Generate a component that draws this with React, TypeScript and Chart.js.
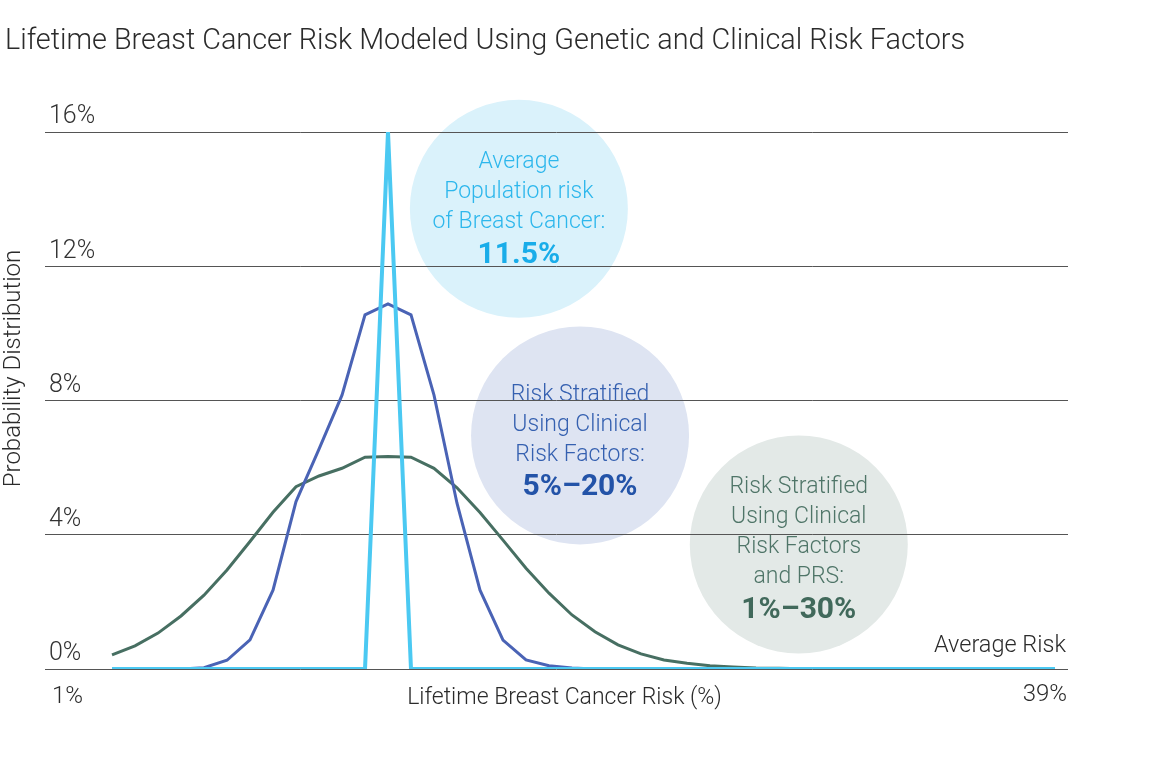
import React, { useEffect, useRef } from "react";
import { Chart, registerables } from "chart.js";

Chart.register(...registerables);

// ---------- data ----------
const binIndex = [
  0, 1, 2, 3, 4, 5, 6, 7, 8, 9, 10, 11, 12, 13, 14, 15, 16, 17, 18, 19, 20,
  21, 22, 23, 24, 25, 26, 27, 28, 29, 30, 31, 32, 33, 34, 35, 36, 37, 38, 39, 40, 41,
];

const clinicalAndPrs = [
  0.42, 0.69, 1.07, 1.58, 2.2, 2.95, 3.8, 4.67, 5.43, 5.75, 5.98, 6.31, 6.33, 6.31,
  5.98, 5.4, 4.66, 3.84, 3.0, 2.26, 1.61, 1.11, 0.72, 0.45, 0.27, 0.17, 0.1, 0.06,
  0.03, 0.02, 0.01, 0, 0, 0, 0, 0, 0, 0, 0, 0, 0, 0,
];

const clinicalOnly = [
  0, 0, 0, 0, 0.04, 0.26, 0.87, 2.35, 4.99, 6.55, 8.16, 10.55, 10.88, 10.55, 8.16,
  4.94, 2.35, 0.86, 0.27, 0.1, 0.03, 0, 0, 0, 0, 0, 0, 0, 0, 0, 0, 0, 0, 0, 0, 0,
  0, 0, 0, 0, 0, 0,
];

const averagePopulation = [
  0, 0, 0, 0, 0, 0, 0, 0, 0, 0, 0, 0, 16, 0, 0, 0, 0, 0, 0, 0, 0, 0, 0, 0, 0, 0,
  0, 0, 0, 0, 0, 0, 0, 0, 0, 0, 0, 0, 0, 0, 0, 0,
];

const yTickValues = [0, 4, 8, 12, 16];
const xStartLabel = "1%";
const xEndLabel = "39%";
const chartTitle = "Lifetime Breast Cancer Risk Modeled Using Genetic and Clinical Risk Factors";
const xTitle = "Lifetime Breast Cancer Risk (%)";
const yTitle = "Probability Distribution";
const baselineLabel = "Average Risk";

const bubbleLines1 = ["Average", "Population risk", "of Breast Cancer:"];
const bubbleValue1 = "11.5%";
const bubbleLines2 = ["Risk Stratified", "Using Clinical", "Risk Factors:"];
const bubbleValue2 = "5%–20%";
const bubbleLines3 = ["Risk Stratified", "Using Clinical", "Risk Factors", "and PRS:"];
const bubbleValue3 = "1%–30%";

// ---------- styles ----------
const FONT = "Roboto, 'Liberation Sans', sans-serif";
const TEXT = "#2b2b2b";

const bubbles = [
  { lines: bubbleLines1, value: bubbleValue1, cx: 17.69, cy: 13.71, r: 109, dy: 0, fill: "#daf2fb", color: "#2db7ec", bold: "#19ade9" },
  { lines: bubbleLines2, value: bubbleValue2, cx: 20.35, cy: 6.96, r: 109, dy: 6, fill: "#dee4f2", color: "#3560b0", bold: "#2353a8" },
  { lines: bubbleLines3, value: bubbleValue3, cx: 29.86, cy: 3.71, r: 109, dy: 4.5, fill: "#e3e9e7", color: "#4f7568", bold: "#41695b" },
];

const bubblePlugin = {
  id: "bubbles",
  beforeDraw(chart: any) {
    const { ctx, scales } = chart;
    const xs = scales.x;
    const ys = scales.y;
    ctx.save();
    bubbles.forEach((b) => {
      const px = xs.getPixelForValue(b.cx);
      const py = ys.getPixelForValue(b.cy);
      ctx.beginPath();
      ctx.arc(px, py, b.r, 0, Math.PI * 2);
      ctx.fillStyle = b.fill;
      ctx.fill();
      const lineH = 30;
      const gapBold = 33;
      const total = lineH * (b.lines.length - 1) + gapBold;
      const y = py - total / 2 + b.dy;
      ctx.textAlign = "center";
      ctx.textBaseline = "middle";
      ctx.fillStyle = b.color;
      ctx.font = `300 23px ${FONT}`;
      b.lines.forEach((l: string, i: number) => {
        ctx.fillText(l, px, y + i * lineH);
      });
      ctx.fillStyle = b.bold;
      ctx.font = `700 30px ${FONT}`;
      ctx.fillText(b.value, px, y + lineH * (b.lines.length - 1) + gapBold);
    });
    ctx.restore();
  },
};

const textPlugin = {
  id: "texts",
  afterDraw(chart: any) {
    const { ctx, chartArea, scales } = chart;
    const zeroY = scales.y.getPixelForValue(0);
    const midX = (chartArea.left + chartArea.right) / 2;
    ctx.save();
    ctx.fillStyle = TEXT;
    ctx.textBaseline = "middle";
    // title
    ctx.textAlign = "left";
    ctx.font = `300 28.8px ${FONT}`;
    ctx.fillText(chartTitle, 5, 42);
    // x end labels
    ctx.font = `300 24px ${FONT}`;
    ctx.fillText(xStartLabel, chartArea.left + 7, chartArea.bottom + 28);
    ctx.textAlign = "right";
    ctx.fillText(xEndLabel, chartArea.right - 1, chartArea.bottom + 26);
    // average risk
    ctx.font = `300 23.5px ${FONT}`;
    ctx.fillText(baselineLabel, chartArea.right - 2, zeroY - 23);
    // x title
    ctx.textAlign = "center";
    ctx.font = `300 23px ${FONT}`;
    ctx.fillText(xTitle, midX + 8, chartArea.bottom + 29);
    // y title
    ctx.translate(14, (chartArea.top + chartArea.bottom) / 2 - 32);
    ctx.rotate(-Math.PI / 2);
    ctx.font = `300 24px ${FONT}`;
    ctx.fillText(yTitle, 0, 0);
    ctx.restore();
  },
};

export default function App() {
  const ref = useRef<HTMLCanvasElement>(null);

  useEffect(() => {
    if (!ref.current) return;
    const chart = new Chart(ref.current, {
      type: "line",
      data: {
        labels: binIndex,
        datasets: [
          {
            label: "Clinical Risk Factors and PRS",
            data: clinicalAndPrs,
            borderColor: "#476f62",
            borderWidth: 3,
            pointRadius: 0,
            tension: 0,
            order: 3,
          },
          {
            label: "Clinical Risk Factors",
            data: clinicalOnly,
            borderColor: "#4a63b5",
            borderWidth: 3,
            pointRadius: 0,
            tension: 0,
            order: 2,
          },
          {
            label: "Average Population Risk",
            data: averagePopulation,
            borderColor: "#4bc9f2",
            borderWidth: 4,
            pointRadius: 0,
            tension: 0,
            order: 1,
          },
        ],
      },
      options: {
        animation: false,
        responsive: true,
        maintainAspectRatio: false,
        layout: { padding: { top: 132, bottom: 103, left: 37, right: 99 } },
        plugins: {
          legend: { display: false },
          tooltip: { enabled: false },
          title: { display: false },
        },
        scales: {
          x: {
            type: "linear",
            display: false,
            min: -2.913,
            max: 41.565,
          },
          y: {
            min: 0,
            max: 16,
            afterBuildTicks: (axis: any) => {
              axis.ticks = yTickValues.map((v) => ({ value: v }));
            },
            grid: { color: "#555555", lineWidth: 1, drawTicks: false },
            border: { display: false },
            ticks: {
              mirror: true,
              padding: 4,
              labelOffset: -15,
              color: "#333333",
              font: { family: FONT, size: 25, weight: "300" as any },
              callback: (v: any) => `${v}%`,
            },
            title: { display: false },
          },
        },
      },
      plugins: [bubblePlugin, textPlugin],
    });
    return () => chart.destroy();
  }, []);

  return (
    <div style={{ position: "absolute", left: 0, top: 0, width: 1167, height: 772, background: "#fff" }}>
      <canvas ref={ref} />
    </div>
  );
}
